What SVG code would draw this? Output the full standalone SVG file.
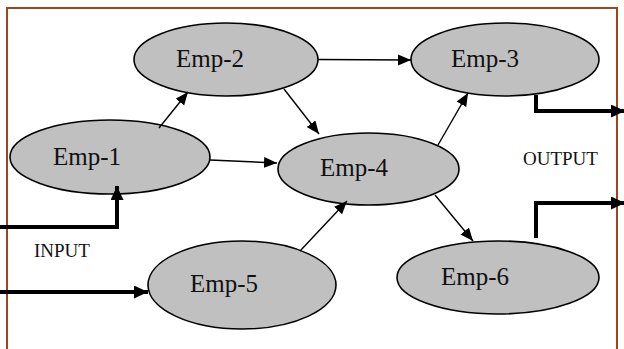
<svg xmlns="http://www.w3.org/2000/svg" width="624" height="349" viewBox="0 0 624 349">
<style>
.node ellipse{fill:#c0c0c0;stroke:#000;stroke-width:1.6}
.node text{font-family:"Liberation Serif",serif;font-size:25px;fill:#111}
.lbl{font-family:"Liberation Serif",serif;font-size:19px;fill:#111}
.thin{stroke:#000;stroke-width:1.4;fill:none;marker-end:url(#ah)}
.thick{stroke:#000;stroke-width:4;fill:none;marker-end:url(#ahb)}
</style>
<defs>
<marker id="ah" markerUnits="userSpaceOnUse" markerWidth="14" markerHeight="12" refX="13" refY="5.5" orient="auto"><path d="M0,0 L13,5.5 L0,11 z" fill="#000"/></marker>
<marker id="ahb" markerUnits="userSpaceOnUse" markerWidth="15" markerHeight="14" refX="14" refY="6.5" orient="auto"><path d="M0,0 L14,6.5 L0,13 z" fill="#000"/></marker>
</defs>
<path d="M7,349 V8 H617 V349" fill="none" stroke="#a0451a" stroke-width="2"/>
<g id="n1" class="node"><ellipse cx="110" cy="157" rx="100" ry="37"/><text x="53" y="165">Emp-1</text></g>
<g id="n2" class="node"><ellipse cx="226" cy="59.5" rx="92" ry="36.5"/><text x="176" y="67">Emp-2</text></g>
<g id="n3" class="node"><ellipse cx="505" cy="59.5" rx="94" ry="36.5"/><text x="451" y="67">Emp-3</text></g>
<g id="n4" class="node"><ellipse cx="368.5" cy="169" rx="90.5" ry="36"/><text x="320" y="176">Emp-4</text></g>
<g id="n5" class="node"><ellipse cx="242" cy="285" rx="94" ry="44"/><text x="190" y="292">Emp-5</text></g>
<g id="n6" class="node"><ellipse cx="498" cy="277.5" rx="101" ry="36.5"/><text x="441" y="285">Emp-6</text></g>
<g id="connectors">
<line class="thin" x1="159" y1="128" x2="188" y2="92"/>
<line class="thin" x1="318" y1="59.5" x2="411" y2="60"/>
<line class="thin" x1="284" y1="89" x2="319" y2="134"/>
<line class="thin" x1="210" y1="160" x2="277" y2="163"/>
<line class="thin" x1="300" y1="251" x2="347" y2="201"/>
<line class="thin" x1="438" y1="145" x2="468" y2="93"/>
<line class="thin" x1="435" y1="195" x2="473" y2="241"/>
<polyline class="thick" points="0,227 117,227 117,186"/>
<polyline class="thick" points="0,292 148,292"/>
<polyline class="thick" points="536,95 536,111 625,111"/>
<polyline class="thick" points="536,238 536,203 625,203"/>
</g>
<text class="lbl" x="523" y="165">OUTPUT</text>
<text class="lbl" x="34" y="257">INPUT</text>
</svg>
